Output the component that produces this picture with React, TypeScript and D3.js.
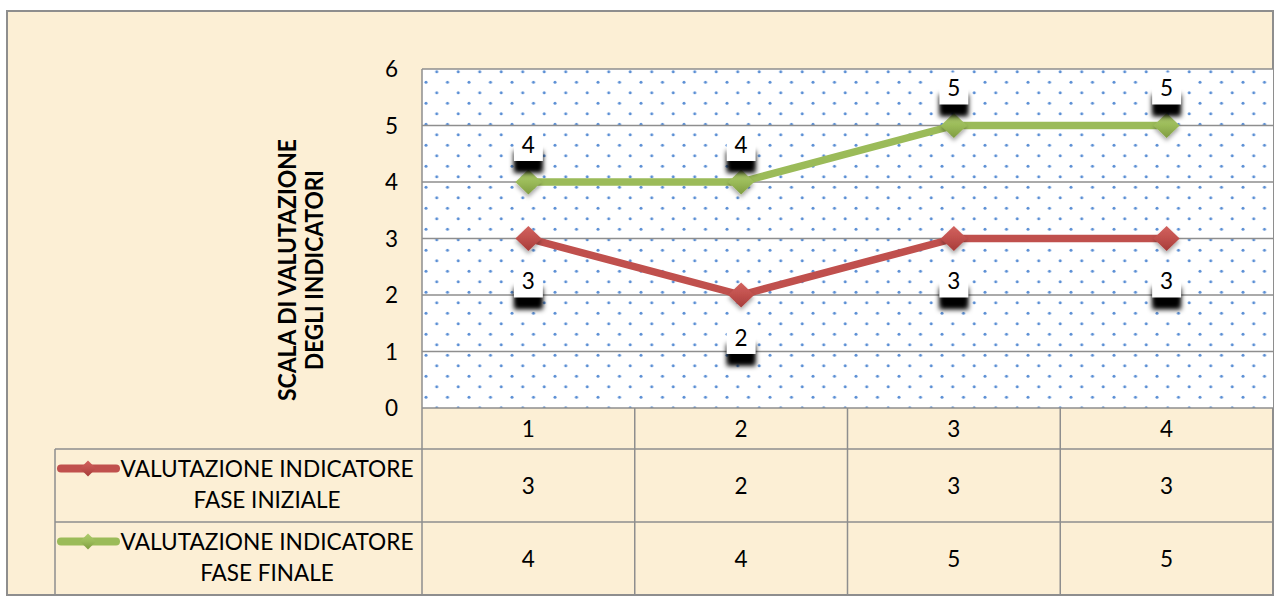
import React from 'react';
import * as d3 from 'd3';

// values
const categories = ['1', '2', '3', '4'];
const valoriIniziali = [3, 2, 3, 3];
const valoriFinali = [4, 4, 5, 5];
const yTicks = [0, 1, 2, 3, 4, 5, 6];
const nomeIniziale = ['VALUTAZIONE INDICATORE', 'FASE INIZIALE'];
const nomeFinale = ['VALUTAZIONE INDICATORE', 'FASE FINALE'];
const titoloAsse = ['SCALA DI VALUTAZIONE', 'DEGLI INDICATORI'];

const W = 1276;
const H = 600;
const plot = { left: 422, right: 1273, top: 69, bottom: 408 };
const table = { left: 55, row1: 449, row2: 522, bottom: 595 };
const FONT = 'Lato, "Open Sans", sans-serif';
const GRID = '#8e8e8e';
const FS = 22.5;

const series = [
  { key: 'iniziale', values: valoriIniziali, name: nomeIniziale, color: '#c0504d', light: '#d2625e', dark: '#a63c39', labelPos: 'below' },
  { key: 'finale', values: valoriFinali, name: nomeFinale, color: '#9bbb59', light: '#aecb6e', dark: '#7f9c41', labelPos: 'above' },
];

const diamond = (r: number, h: number) => `M0,${-h}L${r},0L0,${h}L${-r},0Z`;

export default function App() {
  const x = d3.scaleBand<string>().domain(categories).range([plot.left, plot.right]).padding(0);
  const y = d3.scaleLinear().domain([0, 6]).range([plot.bottom, plot.top]);
  const cx = (c: string) => (x(c) as number) + x.bandwidth() / 2;

  const line = d3
    .line<number>()
    .x((_, i) => cx(categories[i]))
    .y((d) => y(d));

  const rowCenters = [(table.row1 + table.row2) / 2, (table.row2 + table.bottom) / 2];
  const base = FS * 0.36;

  return (
    <svg width={W} height={H} style={{ position: 'absolute', left: 0, top: 0 }} fontFamily={FONT}>
      <defs>
        <pattern id="dots" patternUnits="userSpaceOnUse" x={plot.left} y={plot.top} width={21.5} height={21}>
          <circle cx={14.75} cy={2.7} r={1.5} fill="#5a8ed4" />
          <circle cx={4} cy={13.2} r={1.5} fill="#5a8ed4" />
        </pattern>
        <filter id="blur" x="-50%" y="-50%" width="200%" height="200%">
          <feGaussianBlur stdDeviation={2.6} />
        </filter>
        <filter id="mshadow" x="-50%" y="-50%" width="200%" height="200%">
          <feDropShadow dx={0} dy={3} stdDeviation={2} floodColor="#000" floodOpacity={0.35} />
        </filter>
        {series.map((s) => (
          <linearGradient key={s.key} id={`grad-${s.key}`} x1="0" y1="0" x2="0" y2="1">
            <stop offset="0%" stopColor={s.light} />
            <stop offset="50%" stopColor={s.color} />
            <stop offset="100%" stopColor={s.dark} />
          </linearGradient>
        ))}
      </defs>

      {/* outer frame */}
      <rect x={0} y={0} width={W} height={H} fill="#ffffff" />
      <rect x={7} y={11} width={1266} height={584} fill="#fcefd5" stroke={GRID} strokeWidth={2} />

      {/* plot area */}
      <rect x={plot.left} y={plot.top} width={plot.right - plot.left} height={plot.bottom - plot.top} fill="#ffffff" />
      <rect x={plot.left} y={plot.top} width={plot.right - plot.left} height={plot.bottom - plot.top} fill="url(#dots)" />
      {yTicks.map((t) => (
        <line key={t} x1={plot.left} x2={plot.right} y1={y(t)} y2={y(t)} stroke={GRID} strokeWidth={1.5} />
      ))}
      <line x1={plot.left} x2={plot.left} y1={plot.top} y2={plot.bottom} stroke={GRID} strokeWidth={1.5} />

      {/* y ticks */}
      {yTicks.map((t) => (
        <text key={t} x={398} y={y(t) + base} textAnchor="end" fontSize={FS} fill="#000">
          {t}
        </text>
      ))}

      {/* axis title */}
      <g transform="translate(296,270) rotate(-90)">
        <text x={0} y={0} textAnchor="middle" fontSize={24} fontWeight="bold" textLength={262} lengthAdjust="spacingAndGlyphs">
          {titoloAsse[0]}
        </text>
        <text x={0} y={27} textAnchor="middle" fontSize={24} fontWeight="bold" textLength={200} lengthAdjust="spacingAndGlyphs">
          {titoloAsse[1]}
        </text>
      </g>

      {/* lines */}
      {series.map((s) => (
        <path key={s.key} d={line(s.values) as string} fill="none" stroke={s.color} strokeWidth={7.5} strokeLinejoin="round" />
      ))}

      {/* markers */}
      {series.map((s) =>
        s.values.map((v, i) => (
          <path
            key={`${s.key}-${i}`}
            d={diamond(13, 12.5)}
            transform={`translate(${cx(categories[i])},${y(v)})`}
            fill={`url(#grad-${s.key})`}
            filter="url(#mshadow)"
          />
        ))
      )}

      {/* data labels */}
      {series.map((s) =>
        s.values.map((v, i) => {
          const px = cx(categories[i]);
          const py = y(v);
          const top = s.labelPos === 'above' ? py - 53 : py + 27;
          const h = 32;
          const w = 29;
          const tc = s.labelPos === 'above' ? py - 37.5 : py + 42.5;
          return (
            <g key={`lab-${s.key}-${i}`}>
              <rect x={px - w / 2} y={top + h - 10} width={w} height={22} fill="#000" filter="url(#blur)" />
              <rect x={px - w / 2 + 3} y={top + h - 4} width={w - 6} height={11} fill="#000" filter="url(#blur)" />
              <rect x={px - w / 2} y={top} width={w} height={h} fill="#ffffff" />
              <text x={px} y={tc + base} textAnchor="middle" fontSize={FS} fill="#000">
                {v}
              </text>
            </g>
          );
        })
      )}

      {/* data table */}
      <g stroke={GRID} strokeWidth={1.5} fill="none">
        {[table.row1, table.row2, table.bottom].map((ry) => (
          <line key={ry} x1={table.left} x2={plot.right} y1={ry} y2={ry} />
        ))}
        <line x1={table.left} x2={table.left} y1={table.row1} y2={table.bottom} />
        {[...categories.map((c) => x(c) as number), plot.right].map((vx, i) => (
          <line key={i} x1={vx} x2={vx} y1={plot.bottom} y2={table.bottom} />
        ))}
      </g>
      {categories.map((c) => (
        <text key={c} x={cx(c)} y={(plot.bottom + table.row1) / 2 + base} textAnchor="middle" fontSize={FS}>
          {c}
        </text>
      ))}
      {series.map((s, si) =>
        s.values.map((v, i) => (
          <text key={`tv-${s.key}-${i}`} x={cx(categories[i])} y={rowCenters[si] + base} textAnchor="middle" fontSize={FS}>
            {v}
          </text>
        ))
      )}

      {/* legend keys in table */}
      {series.map((s, si) => {
        const top = si === 0 ? table.row1 : table.row2;
        const ly = top + 19.5;
        return (
          <g key={`leg-${s.key}`}>
            <line x1={61} x2={116} y1={ly} y2={ly} stroke={s.color} strokeWidth={8} strokeLinecap="round" />
            <path d={diamond(8, 8)} transform={`translate(88,${ly})`} fill={`url(#grad-${s.key})`} />
            <text x={267} y={ly + base} textAnchor="middle" fontSize={FS} textLength={293} lengthAdjust="spacingAndGlyphs">
              {s.name[0]}
            </text>
            <text x={267} y={ly + 31 + base} textAnchor="middle" fontSize={FS}>
              {s.name[1]}
            </text>
          </g>
        );
      })}
    </svg>
  );
}
